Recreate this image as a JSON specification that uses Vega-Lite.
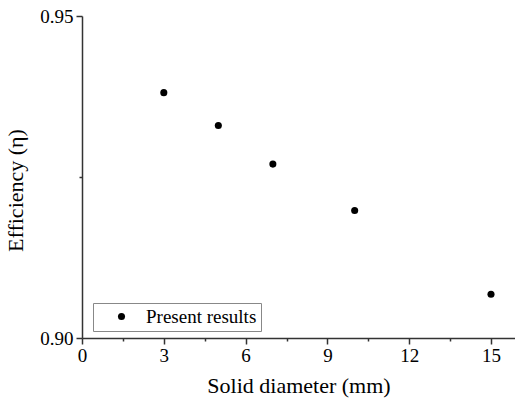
{
  "$schema": "https://vega.github.io/schema/vega-lite/v6.json",
  "width": 433,
  "height": 322,
  "autosize": {"type": "none"},
  "padding": {"left": 82, "top": 16, "right": 0, "bottom": 68},
  "background": "white",
  "config": {
    "view": {"stroke": null},
    "font": "Liberation Serif"
  },
  "data": {
    "values": [
      {"diameter": 3, "efficiency": 0.9381, "series": "Present results"},
      {"diameter": 5, "efficiency": 0.9330, "series": "Present results"},
      {"diameter": 7, "efficiency": 0.9270, "series": "Present results"},
      {"diameter": 10, "efficiency": 0.9198, "series": "Present results"},
      {"diameter": 15, "efficiency": 0.9068, "series": "Present results"}
    ]
  },
  "mark": {"type": "point", "filled": true, "size": 50, "opacity": 1},
  "encoding": {
    "x": {
      "field": "diameter",
      "type": "quantitative",
      "scale": {"domain": [0, 15.88], "nice": false, "zero": false},
      "axis": {
        "title": "Solid diameter (mm)",
        "titleFontSize": 22,
        "titleFontWeight": "normal",
        "titleColor": "black",
        "titlePadding": 10,
        "values": [0, 1.5, 3, 4.5, 6, 7.5, 9, 10.5, 12, 13.5, 15],
        "labelExpr": "datum.value % 3 === 0 ? format(datum.value, 'd') : ''",
        "labelFontSize": 19,
        "labelColor": "black",
        "labelPadding": 2,
        "labelFlush": false,
        "labelOverlap": false,
        "grid": false,
        "domainColor": "#333",
        "domainWidth": 1.5,
        "tickColor": "#333",
        "tickWidth": 1.5,
        "tickSize": {"condition": {"test": "datum.value % 3 === 0", "value": 6}, "value": 3}
      }
    },
    "y": {
      "field": "efficiency",
      "type": "quantitative",
      "scale": {"domain": [0.9, 0.95], "nice": false, "zero": false},
      "axis": {
        "title": "Efficiency (η)",
        "titleFontSize": 22,
        "titleFontWeight": "normal",
        "titleColor": "black",
        "titlePadding": 12,
        "titleY": 174,
        "values": [0.9, 0.925, 0.95],
        "labelExpr": "abs(datum.value - 0.925) < 0.001 ? '' : format(datum.value, '.2f')",
        "labelFontSize": 19,
        "labelColor": "black",
        "labelPadding": 3,
        "labelFlush": false,
        "labelOverlap": false,
        "grid": false,
        "domainColor": "#333",
        "domainWidth": 1.5,
        "tickColor": "#333",
        "tickWidth": 1.5,
        "tickSize": {"condition": {"test": "abs(datum.value - 0.925) < 0.001", "value": 3}, "value": 6}
      }
    },
    "color": {
      "field": "series",
      "type": "nominal",
      "scale": {"range": ["black"]},
      "legend": {
        "title": null,
        "orient": "none",
        "legendX": 11,
        "legendY": 287,
        "strokeColor": "#888",
        "fillColor": "white",
        "padding": 4,
        "labelFontSize": 19,
        "labelColor": "black",
        "symbolSize": 50,
        "symbolType": "circle",
        "symbolOffset": 15,
        "labelOffset": 15,
        "labelLimit": 250
      }
    }
  }
}
